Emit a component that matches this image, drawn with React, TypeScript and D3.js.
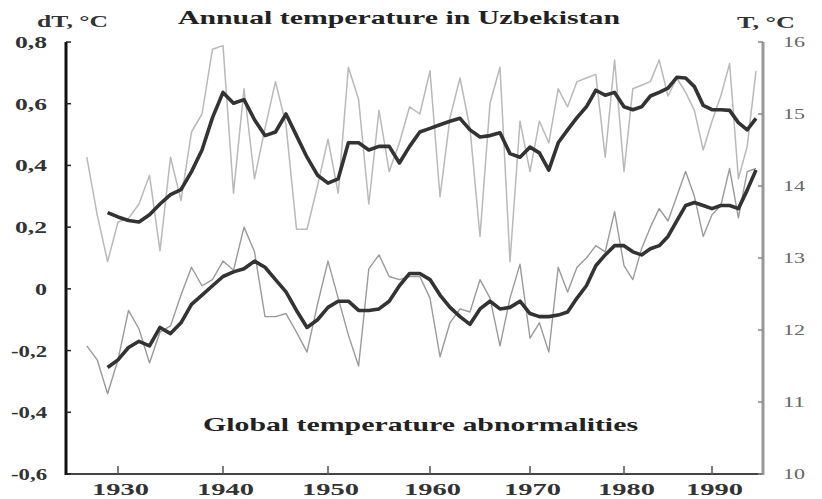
import React from "react";
import * as d3 from "d3";

// Years of record
const years: number[] = d3.range(1927, 1996);

// Annual mean temperature in Uzbekistan, °C (right axis), 1927–1995
const uzbAnnual: number[] = [
  14.4, 13.6, 12.95, 13.5, 13.55, 13.75, 14.15, 13.1, 14.4, 13.8,
  14.75, 15.0, 15.9, 15.95, 13.9, 15.35, 14.1, 14.8, 15.45, 14.85,
  13.4, 13.4, 14.0, 14.65, 13.9, 15.65, 15.2, 13.75, 15.05, 14.2,
  14.6, 15.1, 15.0, 15.6, 13.85, 14.95, 15.5, 14.8, 13.3, 15.15,
  15.65, 12.95, 14.9, 14.2, 14.9, 14.6, 15.35, 15.1, 15.45, 15.5,
  15.55, 14.4, 15.75, 14.2, 15.35, 15.4, 15.45, 15.75, 15.25, 15.5,
  15.3, 15.05, 14.5, 14.9, 15.25, 15.7, 14.1, 14.55, 15.6,
];

// Smoothed Uzbekistan temperature, °C, 1929–1995
const uzbSmoothYears: number[] = d3.range(1929, 1996);
const uzbSmooth: number[] = [
  13.63, 13.57, 13.52, 13.5, 13.6, 13.75, 13.88, 13.95, 14.2, 14.5,
  14.95, 15.3, 15.15, 15.2, 14.92, 14.7, 14.75, 15.0, 14.7, 14.4,
  14.15, 14.04, 14.1, 14.6, 14.6, 14.5, 14.55, 14.55, 14.32, 14.55,
  14.75, 14.8, 14.85, 14.9, 14.94, 14.78, 14.68, 14.7, 14.74, 14.45,
  14.4, 14.54, 14.46, 14.22, 14.6, 14.78, 14.95, 15.1, 15.33, 15.26,
  15.3, 15.1, 15.06, 15.1, 15.25, 15.3, 15.36, 15.51, 15.5, 15.38,
  15.12, 15.06, 15.06, 15.05, 14.88, 14.78, 14.94,
];

// Global temperature anomaly, °C (left axis), 1927–1995
const globalAnnual: number[] = [
  -0.185, -0.23, -0.34, -0.23, -0.07, -0.13, -0.24, -0.14, -0.12, -0.02,
  0.07, 0.01, 0.03, 0.09, 0.06, 0.2, 0.12, -0.09, -0.09, -0.08,
  -0.14, -0.205, -0.05, 0.09, -0.03, -0.15, -0.25, 0.065, 0.11, 0.04,
  0.03, 0.04, 0.04, -0.03, -0.22, -0.11, -0.065, -0.075, 0.03, -0.03,
  -0.185, -0.03, 0.08, -0.16, -0.11, -0.205, 0.07, -0.01, 0.07, 0.1,
  0.14, 0.12, 0.25, 0.075, 0.03, 0.13, 0.2, 0.26, 0.22, 0.3,
  0.38, 0.3, 0.17, 0.24, 0.27, 0.39, 0.23, 0.38, 0.39,
];

// Smoothed global anomaly, °C, 1929–1995
const globalSmoothYears: number[] = d3.range(1929, 1996);
const globalSmooth: number[] = [
  -0.255, -0.23, -0.19, -0.17, -0.185, -0.125, -0.145, -0.11, -0.05, -0.02,
  0.01, 0.04, 0.055, 0.065, 0.09, 0.07, 0.03, -0.01, -0.07, -0.125,
  -0.1, -0.06, -0.04, -0.04, -0.07, -0.07, -0.065, -0.04, 0.01, 0.05,
  0.05, 0.03, -0.02, -0.06, -0.09, -0.115, -0.065, -0.04, -0.065, -0.06,
  -0.04, -0.08, -0.09, -0.09, -0.085, -0.075, -0.03, 0.01, 0.075, 0.11,
  0.14, 0.14, 0.12, 0.11, 0.13, 0.14, 0.17, 0.22, 0.27, 0.28,
  0.27, 0.26, 0.27, 0.27, 0.26, 0.32, 0.385,
];

// Axis ticks
const xTicks: number[] = [1930, 1940, 1950, 1960, 1970, 1980, 1990];
const leftTicks: number[] = [0.8, 0.6, 0.4, 0.2, 0, -0.2, -0.4, -0.6];
const leftTickLabels: string[] = ["0,8", "0,6", "0,4", "0,2", "0", "-0,2", "-0,4", "-0,6"];
const rightTicks: number[] = [16, 15, 14, 13, 12, 11, 10];

const W = 822;
const H = 499;
const left = 66;
const right = 763;
const top = 42;
const bottom = 474;

const serif = "'Liberation Serif', 'DejaVu Serif', serif";

export default function App() {
  // The year axis is spaced unevenly along the page, so a piecewise scale is used.
  const x = d3
    .scaleLinear()
    .domain([1925, 1930, 1940, 1950, 1960, 1970, 1980, 1990, 1996])
    .range([left, 118, 223, 328, 430, 530, 624, 712, 764.8]);
  const yL = d3.scaleLinear().domain([-0.6, 0.8]).range([bottom, top]);
  const yR = d3.scaleLinear().domain([10, 16]).range([bottom, top]);

  const lineR = d3
    .line<[number, number]>()
    .x((d) => x(d[0]))
    .y((d) => yR(d[1]));
  const lineL = d3
    .line<[number, number]>()
    .x((d) => x(d[0]))
    .y((d) => yL(d[1]));

  const uzbA = lineR(years.map((yr, i) => [yr, uzbAnnual[i]] as [number, number]));
  const uzbS = lineR(uzbSmoothYears.map((yr, i) => [yr, uzbSmooth[i]] as [number, number]));
  const glA = lineL(years.map((yr, i) => [yr, globalAnnual[i]] as [number, number]));
  const glS = lineL(globalSmoothYears.map((yr, i) => [yr, globalSmooth[i]] as [number, number]));

  return (
    <svg
      width={W}
      height={H}
      viewBox={`0 0 ${W} ${H}`}
      style={{ position: "absolute", left: 0, top: 0, background: "#fff" }}
    >
      <rect x={0} y={0} width={W} height={H} fill="#fff" />

      {/* series */}
      <path d={uzbA ?? ""} fill="none" stroke="#b9b9b9" strokeWidth={1.5} strokeLinejoin="round" />
      <path d={glA ?? ""} fill="none" stroke="#9a9a9a" strokeWidth={1.4} strokeLinejoin="round" />
      <path d={uzbS ?? ""} fill="none" stroke="#333" strokeWidth={3.6} strokeLinejoin="round" />
      <path d={glS ?? ""} fill="none" stroke="#333" strokeWidth={3.6} strokeLinejoin="round" />

      {/* axes */}
      <line x1={left} x2={right} y1={bottom} y2={bottom} stroke="#444" strokeWidth={2} />
      <line x1={left} x2={left} y1={top} y2={bottom + 1} stroke="#111" strokeWidth={3} />
      <line x1={right} x2={right} y1={top} y2={bottom + 1} stroke="#999" strokeWidth={3} />

      {xTicks.map((t) => (
        <g key={t}>
          <line x1={x(t)} x2={x(t)} y1={bottom} y2={bottom - 8} stroke="#555" strokeWidth={1.5} />
          <text
            x={x(t) - 26}
            y={495}
            fontFamily={serif}
            fontSize={16}
            fontWeight="bold"
            fill="#333"
            textLength={57}
            lengthAdjust="spacingAndGlyphs"
          >
            {t}
          </text>
        </g>
      ))}

      {leftTicks.map((t, i) => {
        const lbl = leftTickLabels[i];
        const w = lbl.length === 1 ? 12 : lbl.length === 3 ? 32 : 36;
        return (
          <g key={t}>
            <line x1={left} x2={left + 5} y1={yL(t)} y2={yL(t)} stroke="#222" strokeWidth={1.5} />
            <text
              x={47 - w}
              y={yL(t) + 6}
              fontFamily={serif}
              fontSize={16}
              fontWeight="bold"
              fill="#333"
              textLength={w}
              lengthAdjust="spacingAndGlyphs"
            >
              {lbl}
            </text>
          </g>
        );
      })}

      {rightTicks.map((t) => (
        <g key={t}>
          <line x1={right - 5} x2={right} y1={yR(t)} y2={yR(t)} stroke="#888" strokeWidth={1.5} />
          <text
            x={783}
            y={yR(t) + 5}
            fontFamily={serif}
            fontSize={14}
            fill="#666"
            textLength={22}
            lengthAdjust="spacingAndGlyphs"
          >
            {t}
          </text>
        </g>
      ))}

      {/* axis titles */}
      <text
        x={37}
        y={27}
        fontFamily={serif}
        fontSize={17}
        fontWeight="bold"
        fill="#333"
        textLength={71}
        lengthAdjust="spacingAndGlyphs"
      >
        dT, °C
      </text>
      <text
        x={737}
        y={28}
        fontFamily={serif}
        fontSize={17}
        fontWeight="bold"
        fill="#333"
        textLength={58}
        lengthAdjust="spacingAndGlyphs"
      >
        T, °C
      </text>

      {/* chart labels */}
      <text
        x={178}
        y={24}
        fontFamily={serif}
        fontSize={19}
        fontWeight="bold"
        fill="#222"
        textLength={442}
        lengthAdjust="spacingAndGlyphs"
      >
        Annual temperature in Uzbekistan
      </text>
      <text
        x={203}
        y={431}
        fontFamily={serif}
        fontSize={19}
        fontWeight="bold"
        fill="#222"
        textLength={435}
        lengthAdjust="spacingAndGlyphs"
      >
        Global temperature abnormalities
      </text>
    </svg>
  );
}
